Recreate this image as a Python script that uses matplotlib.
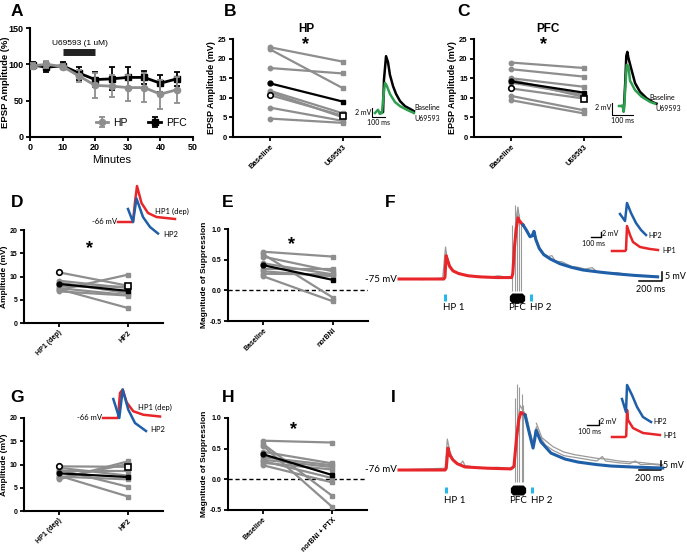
import numpy as np
import matplotlib.pyplot as plt
from matplotlib.path import Path
from matplotlib.ticker import FormatStrFormatter

plt.rcParams['font.family'] = ['Liberation Sans', 'DejaVu Sans']

# ---- panel A: time course ----
minutes = [1, 5, 10, 15, 20, 25, 30, 35, 40, 45]
hp_amp = [98, 100, 97, 84, 71, 70, 68, 68, 59, 65]
hp_err = [4, 5, 4, 8, 17, 15, 18, 20, 20, 18]
pfc_amp = [99, 96, 98, 88, 79, 80, 82, 82, 74, 80]
pfc_err = [4, 7, 5, 9, 10, 16, 15, 9, 12, 10]
drug_on = [10, 20]

# ---- panels B / C: paired amplitudes (mV) ----
u69_cats = ['Baseline', 'U69593']
hp_base = [22.9, 22.4, 17.6, 11.8, 11.4, 7.5, 4.7]
hp_u69 = [19.2, 12.4, 16.2, 6.0, 5.0, 4.1, 3.6]
hp_mean = [13.7, 9.0]
hp_example = [10.7, 5.4]
pfc_base = [19.0, 17.3, 15.0, 14.6, 13.9, 10.5, 9.4]
pfc_u69 = [17.6, 15.4, 12.8, 10.2, 10.7, 6.8, 6.0]
pfc_mean = [14.2, 11.3]
pfc_example = [12.4, 9.8]

# ---- panels D / G: HP1 (dep) vs HP2 (mV) ----
hp_cats = ['HP1 (dep)', 'HP2']
d_hp1 = [9.1, 8.7, 7.9, 7.5, 7.3, 7.1, 6.8]
d_hp2 = [7.5, 6.4, 7.8, 6.0, 3.2, 10.4, 5.9]
d_mean = [8.4, 6.9]
d_example = [10.9, 8.0]
g_hp1 = [9.3, 8.9, 8.6, 7.6, 7.4, 7.1, 6.8]
g_hp2 = [7.6, 5.2, 8.6, 3.1, 6.8, 10.1, 10.7]
g_mean = [8.1, 7.3]
g_example = [9.6, 9.5]

# ---- panels E / H: magnitude of suppression ----
e_cats = ['Baseline', 'norBNI']
e_base = [0.63, 0.59, 0.55, 0.44, 0.34, 0.31, 0.27, 0.23]
e_nor = [0.55, -0.12, 0.31, 0.26, 0.34, 0.23, 0.26, -0.18]
e_mean = [0.41, 0.17]
h_cats = ['Baseline', 'norBNI + PTX']
h_base = [0.63, 0.58, 0.55, 0.45, 0.36, 0.32, 0.30, 0.27, 0.23]
h_ptx = [0.60, -0.27, -0.45, 0.26, 0.23, 0.20, 0.02, 0.16, -0.05]
h_mean = [0.41, 0.07]

# ---- example traces (ms, mV relative to baseline) ----
b_base_t = [38, 62, 69, 85, 100, 115, 139, 162, 193, 231, 270, 300]
b_base_v = [0, 0.2, 7.3, 12.5, 11.2, 8.4, 5.9, 4.2, 2.6, 1.5, 0.9, 0.4]
b_drug_t = [0, 23, 38, 54, 62, 77, 92, 115, 154, 193, 246, 300]
b_drug_v = [0, 0.7, -0.2, 0, 2.9, 6.6, 5.9, 4.2, 2.4, 1.5, 0.7, 0]
c_base_t = [15, 24, 30, 35, 40, 45, 56, 77, 101, 133, 165, 180]
c_base_v = [0, 0, 4, 8.5, 9.2, 8.2, 6.7, 3.9, 2.4, 1.3, 0.6, 0.4]
c_drug_t = [0, 18, 22, 25, 30, 37, 45, 53, 77, 108, 149, 173]
c_drug_v = [0, 0, -1.0, -0.3, 3.0, 7.0, 6.8, 4.3, 2.7, 1.6, 0.7, 0.4]

d_hp1_t = [0, 150, 170, 190, 235, 300, 385, 570]
d_hp1_v = [0, 0, 8, 14.4, 7.6, 3.6, 2.0, 1.2]
d_hp2_t = [100, 150, 185, 250, 320, 400]
d_hp2_v = [5.2, 0, 9.4, 2.0, -2.0, -4.6]
g_hp1_t = [0, 150, 170, 197, 237, 303, 403, 570]
g_hp1_v = [0, 0, 10, 11.4, 6.2, 2.7, 1.3, 0.6]
g_hp2_t = [103, 163, 197, 253, 320, 430]
g_hp2_v = [7.6, 0, 11.4, 3.3, -2.0, -5.2]

f_red_t = [0, 390, 400, 410, 420, 440, 470, 520, 600, 700, 850, 980, 990, 1005, 1020, 1035, 1050, 1080]
f_red_v = [0, 0, 1, 13, 11, 7, 4.5, 3, 1.8, 1.2, 0.8, 0.8, 3, 18, 28, 34, 32, 30]
f_blue_t = [1080, 1110, 1140, 1160, 1175, 1190, 1220, 1260, 1320, 1400, 1500, 1600, 1750, 1900, 2050, 2250]
f_blue_v = [30, 27, 23.5, 24, 26.5, 22, 17, 13.5, 11, 8.5, 6.5, 5, 3.8, 2.8, 2, 1.2]
f_gray_t = [0, 200, 380, 405, 415, 440, 480, 520, 560, 600, 700, 780, 860, 940, 985, 1000, 1020, 1035,
            1050, 1080, 1110, 1140, 1170, 1190, 1220, 1260, 1300, 1330, 1360, 1420, 1500, 1560, 1620,
            1680, 1720, 1800, 1900, 2000, 2100, 2250]
f_gray_v = [0.3, -0.3, 0.5, 17.8, 13, 8, 4, 3.5, 2.5, 1.5, 1.5, 0.8, 1.8, 1.0, 1.0, 16, 34, 40,
            32, 30, 26, 23, 27, 23, 18, 14, 12.5, 13, 10, 9.5, 7, 6.5, 5.5, 6.3, 4.2, 3.5, 3.5, 2.3, 2.0, 1.5]
f_artifact_t = [985, 1005, 1025, 1045, 1065]
f_artifact_top = [30, 41, 38, 36, 33]

i_red_t = [0, 420, 430, 446, 460, 491, 530, 600, 800, 1020, 1046, 1070, 1090, 1110, 1147]
i_red_v = [0, 0, 1, 12.2, 8.5, 5.6, 3.5, 1.7, 1.0, 0.6, 2, 18, 28, 32, 30.6]
i_blue_t = [1147, 1180, 1220, 1235, 1247, 1292, 1383, 1510, 1630, 1800, 1930, 2150, 2400]
i_blue_v = [30.6, 22, 12.2, 17, 22, 15.6, 9.4, 6.1, 4.4, 3.0, 2.2, 1.6, 1.1]
i_gray_t = [0, 200, 420, 440, 460, 490, 530, 560, 580, 600, 700, 800, 900, 1000, 1045, 1070, 1100,
            1130, 1160, 1190, 1220, 1250, 1280, 1330, 1400, 1500, 1600, 1700, 1800, 1850, 1880, 2000,
            2100, 2150, 2200, 2300, 2400]
i_gray_v = [0, 0.5, 1, 17.2, 11, 6, 3.5, 3.2, 5, 2.5, 1.5, 1.2, 1.5, 1, 2, 20, 36,
            33, 30, 22, 15, 24, 19, 14, 11, 8, 7, 6, 5, 7.5, 5, 4, 3.5, 5, 3, 3.2, 2.5]
i_gray2_t = [1250, 1300, 1400, 1500, 1600, 1700, 1800, 1900, 2000, 2100, 2200, 2300, 2400]
i_gray2_v = [26, 18, 13, 10, 8.5, 7.5, 6.5, 6, 5, 4.5, 4.2, 3.5, 3.0]
i_artifact_t = [1055, 1075, 1095, 1115, 1130]
i_artifact_top = [40, 48, 46, 42, 36]

fi_hp1_t = [0, 130, 140, 150, 180, 210, 280, 380, 460]
fi_hp1_v = [0, 0, 0.4, 10, 6.4, 3.6, 1.6, 0.8, 0.4]
fi_hp2_t = [80, 130, 150, 190, 240, 290, 340]
fi_hp2_v = [14.8, 12, 19.2, 15.2, 11.2, 8.4, 6.4]
ii_hp1_t = [0, 108, 118, 125, 133, 174, 257, 398]
ii_hp1_v = [0, 0, 0.4, 10.8, 6.8, 3.6, 1.6, 0.8]
ii_hp2_t = [83, 116, 125, 166, 208, 257, 324]
ii_hp2_v = [15.2, 10.0, 20.8, 16.8, 12, 8, 6.0]

GRAY = '#8e8e8e'
RED = '#e8262a'
BLUE = '#1f5fa8'
GREEN = '#2e9e4f'
CYAN = '#29b6e8'

W, H = 687, 552
fig = plt.figure(figsize=(W / 100, H / 100), dpi=100)


def px_axes(l, t, r, b):
    return fig.add_axes([l / W, 1 - b / H, (r - l) / W, (b - t) / H])


def trace_axes(box, x0, y0, sx, sy):
    # box in pixels, (x0, y0) pixel of t=0/v=0, sx ms per px, sy mV per px
    l, t, r, b = box
    ax = px_axes(l, t, r, b)
    ax.set_xlim((l - x0) * sx, (r - x0) * sx)
    ax.set_ylim((y0 - b) * sy, (y0 - t) * sy)
    ax.axis('off')
    ax.patch.set_alpha(0)
    return ax


def ftext(x, y, s, **kw):
    fig.text(x / W, 1 - y / H, s, **kw)


def prism(ax, tick_size):
    for side in ['top', 'right']:
        ax.spines[side].set_visible(False)
    for side in ['left', 'bottom']:
        ax.spines[side].set_linewidth(1.5)
    ax.tick_params(direction='out', length=3, width=1.3, labelsize=tick_size, pad=1.5)
    for lab in ax.get_xticklabels() + ax.get_yticklabels():
        lab.set_fontweight('bold')


def paired(ax, before, after, mean, example, cats, ylim, yticks, ylabel, tick_size, lab_size):
    x = np.arange(2)
    for b, a in zip(before, after):
        ax.plot(x, [b, a], color=GRAY, lw=1.6, zorder=2)
        ax.plot(x[0], b, 'o', color=GRAY, ms=3.2, zorder=3)
        ax.plot(x[1], a, 's', color=GRAY, ms=3.2, zorder=3)
    if example is not None:
        ax.plot(x, example, color=GRAY, lw=1.6, zorder=2)
        ax.plot(x[0], example[0], 'o', mfc='white', mec='black', mew=1.2, ms=4, zorder=5)
        ax.plot(x[1], example[1], 's', mfc='white', mec='black', mew=1.2, ms=4, zorder=5)
    ax.plot(x, mean, color='black', lw=1.6, zorder=4)
    ax.plot(x[0], mean[0], 'o', color='black', ms=3.5, zorder=4)
    ax.plot(x[1], mean[1], 's', color='black', ms=3.5, zorder=4)
    ax.set_xlim(-0.5, 1.5)
    ax.set_ylim(*ylim)
    ax.set_yticks(yticks)
    ax.set_xticks(x)
    ax.set_xticklabels(cats, rotation=45, ha='right', rotation_mode='anchor')
    ax.set_ylabel(ylabel, fontsize=lab_size, fontweight='bold', labelpad=1.5)
    prism(ax, tick_size)


# ================= A =================
axA = px_axes(30, 28, 193, 137)
axA.errorbar(minutes, pfc_amp, yerr=pfc_err, color='black', marker='s', ms=4.5, lw=2,
             capsize=2.5, elinewidth=1.3, capthick=1.3, label='PFC', zorder=3)
axA.errorbar(minutes, hp_amp, yerr=hp_err, color=GRAY, marker='o', ms=4.5, lw=2,
             capsize=2.5, elinewidth=1.3, capthick=1.3, label='HP', zorder=4)
axA.plot(drug_on, [117, 117], color='#222222', lw=5, solid_capstyle='butt')
axA.text(np.mean(drug_on) + 0.3, 129, 'U69593 (1 uM)', ha='center', va='center', fontsize=6)
axA.set_xlim(0, 50)
axA.set_ylim(0, 150)
axA.set_xticks(range(0, 51, 10))
axA.set_yticks(range(0, 151, 50))
axA.set_xlabel('Minutes', fontsize=8, labelpad=2)
axA.set_ylabel('EPSP Amplitude (%)', fontsize=6.8, fontweight='bold')
axA.yaxis.set_label_coords(-0.122, 0.5)
prism(axA, 6.5)
hd, lb = axA.get_legend_handles_labels()
axA.legend(hd[::-1], lb[::-1], ncol=2, loc='lower right', frameon=False, fontsize=7.5,
           handlelength=1.2, columnspacing=2.0, handletextpad=0.5,
           bbox_to_anchor=(1.02, 0.0))

# ================= B / C =================
axB = px_axes(233, 39, 380, 137)
paired(axB, hp_base, hp_u69, hp_mean, hp_example, u69_cats, (0, 25), range(0, 26, 5),
       'EPSP Amplitude (mV)', 5.5, 6.5)
axB.set_title('HP', fontsize=8.5, fontweight='bold', pad=5)
axC = px_axes(474, 39, 621, 137)
paired(axC, pfc_base, pfc_u69, pfc_mean, pfc_example, u69_cats, (0, 25), range(0, 26, 5),
       'EPSP Amplitude (mV)', 5.5, 6.5)
axC.set_title('PFC', fontsize=8.5, fontweight='bold', pad=5)
ftext(305, 45, '*', ha='center', va='center', fontsize=13, fontweight='bold')
ftext(543, 45, '*', ha='center', va='center', fontsize=13, fontweight='bold')

tb = trace_axes((345, 45, 450, 128), 375, 113, 7.7, 0.22)
tb.plot(b_base_t, b_base_v, color='black', lw=1.8)
tb.plot(b_drug_t, b_drug_v, color=GREEN, lw=1.8)
tb.plot([-23, -23, 77], [1.1, -0.9, -0.9], color='black', lw=0.8)
tb.text(-28, 0.1, '2 mV', ha='right', va='center', fontsize=5, fontfamily='Lato')
tb.text(27, -2.0, '100 ms', ha='center', va='center', fontsize=5, fontfamily='Lato')
tb.text(305, 1.1, 'Baseline', ha='left', va='center', fontsize=5, fontfamily='Lato')
tb.text(305, -1.3, 'U69593', ha='left', va='center', fontsize=5, fontfamily='Lato')

tc = trace_axes((590, 40, 687, 125), 619, 106, 4.8, 0.17)
tc.plot(c_base_t, c_base_v, color='black', lw=1.8)
tc.plot(c_drug_t, c_drug_v, color=GREEN, lw=1.8)
tc.plot([-34, -34, 66], [0.5, -1.5, -1.5], color='black', lw=0.8)
tc.text(-38, -0.3, '2 mV', ha='right', va='center', fontsize=5, fontfamily='Lato')
tc.text(16, -2.5, '100 ms', ha='center', va='center', fontsize=5, fontfamily='Lato')
tc.text(144, 1.5, 'Baseline', ha='left', va='center', fontsize=5, fontfamily='Lato')
tc.text(173, -0.5, 'U69593', ha='left', va='center', fontsize=5, fontfamily='Lato')

# ================= D / G =================
axD = px_axes(24, 230, 163, 323)
paired(axD, d_hp1, d_hp2, d_mean, d_example, hp_cats, (0, 20), range(0, 21, 5),
       'Amplitude (mV)', 5, 6)
ftext(90, 249, '*', ha='center', va='center', fontsize=13, fontweight='bold')
axG = px_axes(24, 418, 163, 511)
paired(axG, g_hp1, g_hp2, g_mean, g_example, hp_cats, (0, 20), range(0, 21, 5),
       'Amplitude (mV)', 5, 6)

td = trace_axes((95, 180, 200, 240), 118, 222, 10, 0.4)
td.plot(d_hp1_t, d_hp1_v, color=RED, lw=1.8)
td.plot(d_hp2_t, d_hp2_v, color=BLUE, lw=1.8)
td.text(-8, 0, '-66 mV', ha='right', va='center', fontsize=5.5, fontfamily='Lato')
td.text(370, 4.4, 'HP1 (dep)', ha='left', va='center', fontsize=5.5, fontfamily='Lato')
td.text(450, -5.2, 'HP2', ha='left', va='center', fontsize=5.5, fontfamily='Lato')

tg = trace_axes((80, 380, 200, 440), 103, 418, 10, 0.4)
tg.plot(g_hp1_t, g_hp1_v, color=RED, lw=1.8)
tg.plot(g_hp2_t, g_hp2_v, color=BLUE, lw=1.8)
tg.text(-8, 0, '-66 mV', ha='right', va='center', fontsize=5.5, fontfamily='Lato')
tg.text(350, 4.4, 'HP1 (dep)', ha='left', va='center', fontsize=5.5, fontfamily='Lato')
tg.text(470, -4.4, 'HP2', ha='left', va='center', fontsize=5.5, fontfamily='Lato')

# ================= E / H =================
axE = px_axes(228, 229, 368, 321)
paired(axE, e_base, e_nor, e_mean, None, e_cats, (-0.5, 1.0), [-0.5, 0, 0.5, 1.0],
       'Magnitude of Suppression', 5, 6)
axE.axhline(0, color='black', lw=1, ls=(0, (3, 2)), zorder=1)
axE.yaxis.set_major_formatter(FormatStrFormatter('%.1f'))
ftext(292, 245, '*', ha='center', va='center', fontsize=13, fontweight='bold')
axH = px_axes(228, 418, 367, 510)
paired(axH, h_base, h_ptx, h_mean, None, h_cats, (-0.5, 1.0), [-0.5, 0, 0.5, 1.0],
       'Magnitude of Suppression', 5, 6)
axH.axhline(0, color='black', lw=1, ls=(0, (3, 2)), zorder=1)
axH.yaxis.set_major_formatter(FormatStrFormatter('%.1f'))
ftext(293, 430, '*', ha='center', va='center', fontsize=13, fontweight='bold')
for ax in [axE, axH]:
    for lab in ax.get_yticklabels():
        lab.set_fontweight('bold')

# ================= F / I =================
stim_marker = Path([(-1, -0.3), (-0.7, -0.62), (0.7, -0.62), (1, -0.3), (1, 0.3),
                    (0.7, 0.62), (-0.7, 0.62), (-1, 0.3), (-1, -0.3)], closed=True)


def big_trace(ax, red_t, red_v, blue_t, blue_v, grays, art_t, art_top, hp1_t, pfc_t, hp2_t,
              stim_v, lab_v, hold, bar_t, bar_v):
    for gt, gv in grays:
        ax.plot(gt, gv, color='#9a9a9a', lw=0.9, zorder=1)
    ax.vlines(art_t, -6.5, art_top, color='#9a9a9a', lw=0.8, zorder=1)
    ax.plot(red_t, red_v, color=RED, lw=2.2, zorder=3)
    ax.plot(blue_t, blue_v, color=BLUE, lw=2.2, zorder=3)
    ax.vlines([hp1_t, hp2_t], stim_v - 1.8, stim_v + 1.8, color=CYAN, lw=2.2)
    ax.plot(pfc_t, stim_v, marker=stim_marker, color='black', ms=10)
    ax.text(hp1_t - 20, lab_v, 'HP 1', ha='left', va='center', fontsize=7, fontfamily='Lato')
    ax.text(pfc_t, lab_v, 'PFC', ha='center', va='center', fontsize=7, fontfamily='Lato')
    ax.text(hp2_t - 10, lab_v, 'HP 2', ha='left', va='center', fontsize=7, fontfamily='Lato')
    ax.text(-20, 0, hold, ha='right', va='center', fontsize=7, fontfamily='Lato')
    ax.plot([bar_t - 200, bar_t, bar_t], [bar_v, bar_v, bar_v + 5], color='black', lw=1.1)
    ax.text(bar_t + 25, bar_v + 2.5, '5 mV', ha='left', va='center', fontsize=6.5, fontfamily='Lato')
    ax.text(bar_t - 100, bar_v - 4.5, '200 ms', ha='center', va='center', fontsize=6.5,
            fontfamily='Lato')


tf = trace_axes((340, 195, 687, 320), 399, 279, 8.7, 0.556)
big_trace(tf, f_red_t, f_red_v, f_blue_t, f_blue_v, [(f_gray_t, f_gray_v)],
          f_artifact_t, f_artifact_top, 400, 1027, 1148, -10.3, -15.6, '-75 mV', 2288, -1.1)
ti = trace_axes((340, 380, 687, 505), 399, 470, 9.1, 0.556)
big_trace(ti, i_red_t, i_red_v, i_blue_t, i_blue_v, [(i_gray_t, i_gray_v), (i_gray2_t, i_gray2_v)],
          i_artifact_t, i_artifact_top, 428, 1083, 1210, -11.2, -16.7, '-76 mV', 2380, 0)

tfi = trace_axes((570, 195, 687, 262), 612, 251, 10, 0.4)
tfi.plot(fi_hp1_t, fi_hp1_v, color=RED, lw=1.8)
tfi.plot(fi_hp2_t, fi_hp2_v, color=BLUE, lw=1.8)
tfi.plot([-210, -110, -110], [5.6, 5.6, 7.6], color='black', lw=1)
tfi.text(-100, 6.8, '2 mV', ha='left', va='center', fontsize=5, fontfamily='Lato')
tfi.text(-180, 3.2, '100 ms', ha='center', va='center', fontsize=5, fontfamily='Lato')
tfi.text(360, 6.4, 'HP2', ha='left', va='center', fontsize=5, fontfamily='Lato')
tfi.text(505, 0.2, 'HP1', ha='left', va='center', fontsize=5, fontfamily='Lato')

tii = trace_axes((570, 380, 687, 447), 612, 437, 8.3, 0.4)
tii.plot(ii_hp1_t, ii_hp1_v, color=RED, lw=1.8)
tii.plot(ii_hp2_t, ii_hp2_v, color=BLUE, lw=1.8)
tii.plot([-208, -108, -108], [4.8, 4.8, 6.8], color='black', lw=1)
tii.text(-98, 6.2, '2 mV', ha='left', va='center', fontsize=5, fontfamily='Lato')
tii.text(-183, 2.4, '100 ms', ha='center', va='center', fontsize=5, fontfamily='Lato')
tii.text(340, 6.0, 'HP2', ha='left', va='center', fontsize=5, fontfamily='Lato')
tii.text(423, 0.8, 'HP1', ha='left', va='center', fontsize=5, fontfamily='Lato')

# panel letters
for letter, x, y in [('A', 17, 11), ('B', 230, 11), ('C', 463, 11), ('D', 17, 202), ('E', 228, 202),
                     ('F', 390, 202), ('G', 17, 398), ('H', 228, 398), ('I', 393, 398)]:
    ftext(x, y, letter, ha='center', va='center', fontsize=12.5, fontweight='bold')

fig.savefig('out.png', dpi=100)
